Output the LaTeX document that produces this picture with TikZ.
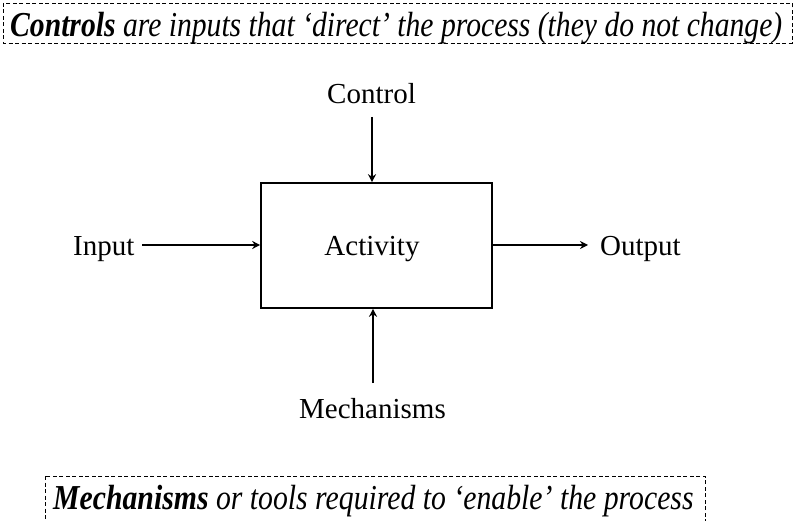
\documentclass[tikz,border=0pt]{standalone}
\usepackage{fontspec}
\usepackage{graphicx}
\setmainfont{Liberation Serif}
\usetikzlibrary{arrows.meta}
\begin{document}
\begin{tikzpicture}[x=1pt,y=-1pt,
  lbl/.style={font=\fontsize{29}{34}\selectfont, inner sep=0pt},
  conn/.style={line width=1.6pt, -{Stealth[length=8pt,width=8pt]}},
  notestyle/.style={font=\fontsize{35}{40}\selectfont\itshape, inner sep=0pt},
  frame/.style={draw, line width=0.8pt, dash pattern=on 4pt off 2.5pt}]
\useasboundingbox (0,0) rectangle (795,521);
\begin{scope}
\clip (0,0) rectangle (795,521);
% top note
\draw[frame] (3,3) rectangle (792,43);
\node[notestyle, anchor=base west] (topnote) at (10,37) {\resizebox{772pt}{\height}{\textbf{Controls} are inputs that ‘direct’ the process (they do not change)}};
% bottom note
\draw[frame] (45,476) rectangle (705,540);
\node[notestyle, anchor=base west] (botnote) at (53,509) {\scalebox{0.85}[1]{\textbf{Mechanisms} or tools required to ‘enable’ the process}};
% activity box
\node[draw, line width=1.6pt, minimum width=231pt, minimum height=125pt, inner sep=0pt] (act) at (376.5,245.5) {};
\node[lbl, anchor=base] (actl) at (372,256) {Activity};
% labels
\node[lbl, anchor=base] (ctl) at (371.5,104) {Control};
\node[lbl, anchor=base west] (inp) at (73,256) {Input};
\node[lbl, anchor=base west] (out) at (600,256) {Output};
\node[lbl, anchor=base] (mech) at (372.5,418) {Mechanisms};
% connectors
\coordinate (c1) at (372,117);
\coordinate (i1) at (142,245);
\coordinate (o1) at (588,245);
\coordinate (m1) at (373,383);
\draw[conn] (c1) -- (c1 |- act.north);
\draw[conn] (i1) -- (i1 -| act.west);
\draw[conn] (o1 -| act.east) -- (o1);
\draw[conn] (m1) -- (m1 |- act.south);
\end{scope}
\end{tikzpicture}
\end{document}
